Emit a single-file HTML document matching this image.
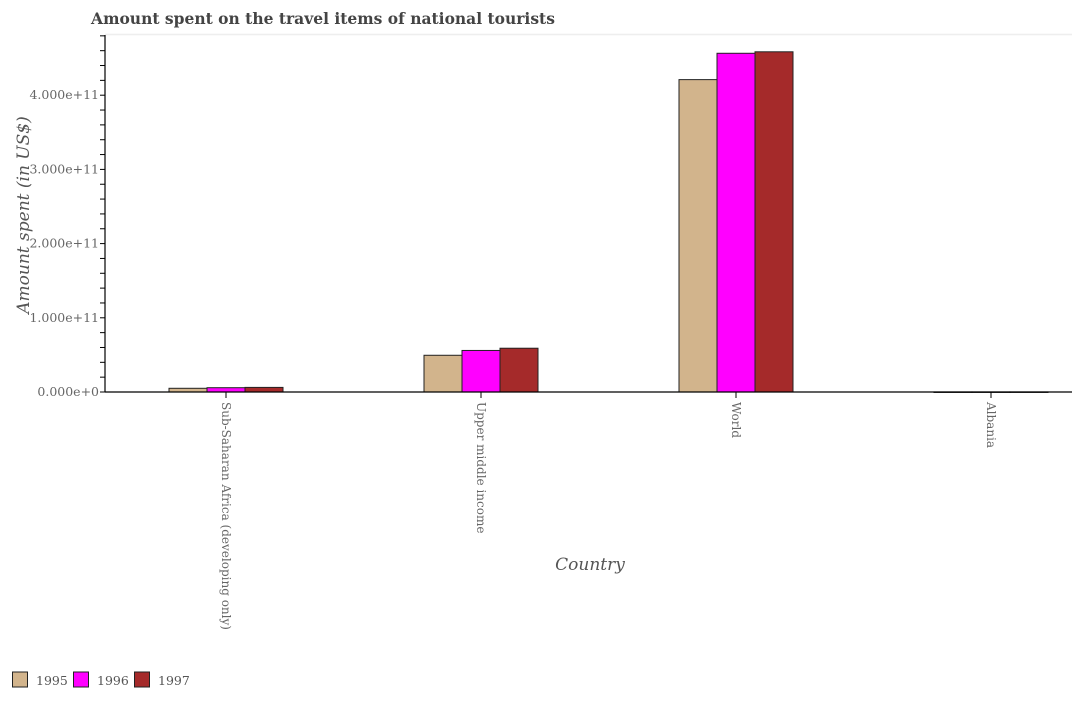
<!DOCTYPE html>
<html><head><meta charset="utf-8"><style>
body{margin:0;background:#fff;width:1078px;height:700px;overflow:hidden}
text{font-family:"DejaVu Serif","Liberation Serif",serif}
</style></head><body>
<svg id="chart" width="1078" height="700">
<text x="323" y="24" text-anchor="middle" font-size="15.5" font-weight="bold" fill="#444">Amount spent on the travel items of national tourists</text>
<line x1="105" y1="34.5" x2="1072" y2="34.5" stroke="#eee" stroke-width="1.5"/>
<g id="yaxis"></g>
<g id="bars"></g>
<g id="xaxis"></g>
<text transform="translate(29,215) rotate(-90)" text-anchor="middle" font-size="17" font-style="italic" fill="#555">Amount spent (in US$)</text>
<text x="590" y="570" text-anchor="middle" font-size="17" font-style="italic" fill="#555">Country</text>
<g id="legend"></g>
</svg>
<script>
const categories=["Sub-Saharan Africa (developing only)","Upper middle income","World","Albania"];
const years=["1995","1996","1997"];
const v1995=[5.0e9,4.95e10,4.21e11,7e7];
const v1996=[5.8e9,5.6e10,4.565e11,8e7];
const v1997=[6.2e9,5.9e10,4.585e11,9e7];
const yTicks=[0,1e11,2e11,3e11,4e11];
const yTickLabels=["0.000e+0","1.000e+11","2.000e+11","3.000e+11","4.000e+11"];
const colors=["#d2b48c","#ff00ff","#a52a2a"];
const NS="http://www.w3.org/2000/svg";
const y0=392, pxPer=74.2/1e11;
function yScale(v){return y0-v*pxPer;}
function xScale(i){return 226+i*255;}
const bw=38;
function mk(tag,attrs,parent){const e=document.createElementNS(NS,tag);for(const k in attrs)e.setAttribute(k,attrs[k]);parent.appendChild(e);return e;}
const ya=document.getElementById('yaxis');
let l=mk('line',{x1:105,y1:35,x2:105,y2:y0,stroke:'#000','stroke-width':1.2},ya);


for(let v=0;v<=4.8e11;v+=2e10){const t=mk('line',{x1:100,x2:105,y1:yScale(v),y2:yScale(v),stroke:'#000'},ya);

}
yTicks.forEach((v,i)=>{const t=mk('text',{x:99,y:yScale(v)+4,'text-anchor':'end','font-size':12.5,fill:'#666'},ya);t.textContent=yTickLabels[i];

});
const bg=document.getElementById('bars');
const series=[v1995,v1996,v1997];
categories.forEach((c,i)=>{series.forEach((s,j)=>{const x=xScale(i)-1.5*bw+j*bw;const yt=yScale(s[i]);
const r=mk('rect',{x:x,y:yt,width:bw,height:Math.max(y0-yt,0.5),fill:colors[j],stroke:'#222','stroke-width':1},bg);

});});
const xa=document.getElementById('xaxis');
l=mk('line',{x1:105,y1:y0,x2:1072,y2:y0,stroke:'#000','stroke-width':1.2},xa);


categories.forEach((c,i)=>{const x=xScale(i);const t=mk('line',{x1:x,x2:x,y1:y0,y2:y0+6,stroke:'#000'},xa);


const tx=mk('text',{transform:`translate(${x-4},${y0+10}) rotate(90)`,'font-size':12,fill:'#666'},xa);tx.textContent=c;

});
const lg=document.getElementById('legend');
years.forEach((y,j)=>{const x=12+j*61;const r=mk('rect',{x:x+0.5,y:672,width:15,height:15,fill:colors[j],stroke:'#222'},lg);


const t=mk('text',{x:x+24,y:685,'font-size':12.5,fill:'#555'},lg);t.textContent=y;

});
</script>
</body></html>
